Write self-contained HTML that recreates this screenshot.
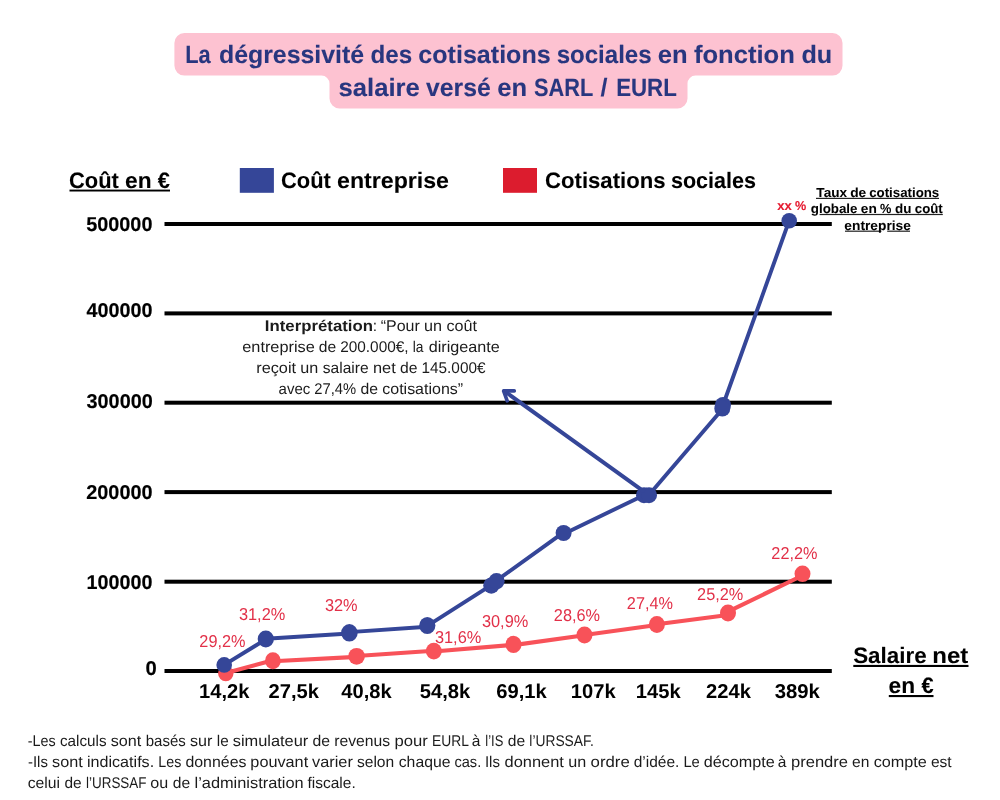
<!DOCTYPE html>
<html lang="fr">
<head>
<meta charset="utf-8">
<title>La dégressivité des cotisations sociales</title>
<style>
html,body{margin:0;padding:0;background:#fff;}
body{width:1000px;height:800px;overflow:hidden;font-family:'Liberation Sans', sans-serif;}
svg{display:block;font-family:'Liberation Sans', sans-serif;}
text{white-space:pre;text-rendering:geometricPrecision;}
</style>
</head>
<body>
<svg width="1000" height="800" viewBox="0 0 1000 800">
<rect width="1000" height="800" fill="#fff"/>
<path d="M184.4,33 H832.5 A10,10 0 0 1 842.5,43 V65.6 A10,10 0 0 1 832.5,75.6 H695.5 A8,8 0 0 0 687.5,83.6 V98.5 A10,10 0 0 1 677.5,108.5 H339.5 A10,10 0 0 1 329.5,98.5 V83.6 A8,8 0 0 0 321.5,75.6 H184.4 A10,10 0 0 1 174.4,65.6 V43 A10,10 0 0 1 184.4,33 Z" fill="#fdc2d1"/>
<rect x="69.5" y="189.6" width="100.5" height="1.9" fill="#000"/>
<rect x="239.8" y="168" width="34.1" height="24.8" fill="#354698"/>
<rect x="503" y="168" width="34" height="24.8" fill="#dc1c2e"/>
<rect x="164.5" y="222.0" width="667.3" height="4" fill="#000"/>
<rect x="164.5" y="311.4" width="667.3" height="4" fill="#000"/>
<rect x="164.5" y="400.7" width="667.3" height="4" fill="#000"/>
<rect x="164.5" y="490.1" width="667.3" height="4" fill="#000"/>
<rect x="164.5" y="579.7" width="667.3" height="4" fill="#000"/>
<rect x="164.5" y="669.0" width="667.3" height="4" fill="#000"/>
<rect x="816.0" y="197.8" width="123.0" height="1.2" fill="#222"/>
<rect x="819.6" y="213.9" width="123.2" height="1.2" fill="#222"/>
<rect x="845.0" y="230.6" width="36.4" height="1.2" fill="#222"/>
<rect x="887.2" y="230.6" width="22.8" height="1.2" fill="#222"/>
<rect x="853.3" y="664.9" width="115.2" height="2.1" fill="#000"/>
<rect x="888.8" y="695.0" width="44.7" height="2.1" fill="#000"/>
<text y="62.70" font-size="25.0" font-weight="bold" fill="#28367f" stroke="#28367f" stroke-width="0.1"><tspan x="185.20" textLength="25.44" lengthAdjust="spacingAndGlyphs">La</tspan> <tspan x="218.95" textLength="145.22" lengthAdjust="spacingAndGlyphs">dégressivité</tspan> <tspan x="370.53" textLength="41.62" lengthAdjust="spacingAndGlyphs">des</tspan> <tspan x="418.38" textLength="132.30" lengthAdjust="spacingAndGlyphs">cotisations</tspan> <tspan x="556.67" textLength="94.98" lengthAdjust="spacingAndGlyphs">sociales</tspan> <tspan x="657.82" textLength="29.84" lengthAdjust="spacingAndGlyphs">en</tspan> <tspan x="693.99" textLength="100.84" lengthAdjust="spacingAndGlyphs">fonction</tspan> <tspan x="801.47" textLength="30.76" lengthAdjust="spacingAndGlyphs">du</tspan></text>
<text y="96.20" font-size="25.0" font-weight="bold" fill="#28367f" stroke="#28367f" stroke-width="0.1"><tspan x="338.52" textLength="81.26" lengthAdjust="spacingAndGlyphs">salaire</tspan> <tspan x="426.00" textLength="64.75" lengthAdjust="spacingAndGlyphs">versé</tspan> <tspan x="497.33" textLength="29.85" lengthAdjust="spacingAndGlyphs">en</tspan> <tspan x="534.02" textLength="58.82" lengthAdjust="spacingAndGlyphs">SARL</tspan> <tspan x="600.55">/</tspan> <tspan x="616.14" textLength="60.67" lengthAdjust="spacingAndGlyphs">EURL</tspan></text>
<text y="187.80" font-size="22.35" font-weight="bold" fill="#000" stroke="#000" stroke-width="0.07"><tspan x="68.96" textLength="49.89" lengthAdjust="spacingAndGlyphs">Coût</tspan> <tspan x="125.13" textLength="26.55" lengthAdjust="spacingAndGlyphs">en</tspan> <tspan x="157.80" textLength="12.15" lengthAdjust="spacingAndGlyphs">€</tspan></text>
<text y="187.80" font-size="22.35" font-weight="bold" fill="#000" stroke="#000" stroke-width="0.07"><tspan x="280.96" textLength="49.89" lengthAdjust="spacingAndGlyphs">Coût</tspan> <tspan x="337.00" textLength="112.01" lengthAdjust="spacingAndGlyphs">entreprise</tspan></text>
<text y="187.80" font-size="22.35" font-weight="bold" fill="#000" stroke="#000" stroke-width="0.07"><tspan x="545.07" textLength="120.45" lengthAdjust="spacingAndGlyphs">Cotisations</tspan> <tspan x="670.97" textLength="85.03" lengthAdjust="spacingAndGlyphs">sociales</tspan></text>
<text y="230.90" font-size="20.0" font-weight="bold" fill="#000" stroke="#000" stroke-width="0.17"><tspan x="86.21" textLength="66.24" lengthAdjust="spacingAndGlyphs">500000</tspan></text>
<text y="317.00" font-size="20.0" font-weight="bold" fill="#000" stroke="#000" stroke-width="0.17"><tspan x="86.49" textLength="66.11" lengthAdjust="spacingAndGlyphs">400000</tspan></text>
<text y="407.80" font-size="20.0" font-weight="bold" fill="#000" stroke="#000" stroke-width="0.17"><tspan x="86.51" textLength="66.29" lengthAdjust="spacingAndGlyphs">300000</tspan></text>
<text y="499.10" font-size="20.0" font-weight="bold" fill="#000" stroke="#000" stroke-width="0.17"><tspan x="86.21" textLength="66.38" lengthAdjust="spacingAndGlyphs">200000</tspan></text>
<text y="589.10" font-size="20.0" font-weight="bold" fill="#000" stroke="#000" stroke-width="0.17"><tspan x="86.48" textLength="66.00" lengthAdjust="spacingAndGlyphs">100000</tspan></text>
<text y="674.50" font-size="20.0" font-weight="bold" fill="#000" stroke="#000" stroke-width="0.17"><tspan x="145.41" textLength="11.25" lengthAdjust="spacingAndGlyphs">0</tspan></text>
<text y="196.80" font-size="13.2" font-weight="bold" fill="#000" stroke="#000" stroke-width="0.04"><tspan x="816.38" textLength="30.71" lengthAdjust="spacingAndGlyphs">Taux</tspan> <tspan x="850.16" textLength="16.07" lengthAdjust="spacingAndGlyphs">de</tspan> <tspan x="869.17" textLength="70.10" lengthAdjust="spacingAndGlyphs">cotisations</tspan></text>
<text y="213.40" font-size="13.2" font-weight="bold" fill="#000" stroke="#000" stroke-width="0.04"><tspan x="810.78" textLength="46.74" lengthAdjust="spacingAndGlyphs">globale</tspan> <tspan x="860.78" textLength="16.01" lengthAdjust="spacingAndGlyphs">en</tspan> <tspan x="880.12" textLength="11.35" lengthAdjust="spacingAndGlyphs">%</tspan> <tspan x="895.03" textLength="16.39" lengthAdjust="spacingAndGlyphs">du</tspan> <tspan x="914.75" textLength="28.03" lengthAdjust="spacingAndGlyphs">coût</tspan></text>
<text y="230.20" font-size="13.2" font-weight="bold" fill="#000" stroke="#000" stroke-width="0.04"><tspan x="844.39" textLength="66.47" lengthAdjust="spacingAndGlyphs">entreprise</tspan></text>
<text y="209.80" font-size="13.0" font-weight="bold" fill="#e5192f" stroke="#e5192f" stroke-width="0.12"><tspan x="777.28" textLength="14.52" lengthAdjust="spacingAndGlyphs">xx</tspan> <tspan x="794.96" textLength="11.20" lengthAdjust="spacingAndGlyphs">%</tspan></text>
<text y="331.00" font-size="15.5" font-weight="normal" fill="#1b1b1b"><tspan x="264.88" textLength="108.12" lengthAdjust="spacingAndGlyphs" font-weight="bold">Interprétation</tspan><tspan x="372.75" textLength="4.32" lengthAdjust="spacingAndGlyphs">:</tspan> <tspan x="380.66" textLength="39.09" lengthAdjust="spacingAndGlyphs">“Pour</tspan> <tspan x="424.00" textLength="18.00" lengthAdjust="spacingAndGlyphs">un</tspan> <tspan x="446.45" textLength="30.51" lengthAdjust="spacingAndGlyphs">coût</tspan></text>
<text y="351.80" font-size="15.5" font-weight="normal" fill="#1b1b1b"><tspan x="242.28" textLength="72.53" lengthAdjust="spacingAndGlyphs">entreprise</tspan> <tspan x="318.76" textLength="17.39" lengthAdjust="spacingAndGlyphs">de</tspan> <tspan x="340.16" textLength="68.50" lengthAdjust="spacingAndGlyphs">200.000€,</tspan> <tspan x="412.74" textLength="10.74" lengthAdjust="spacingAndGlyphs">la</tspan> <tspan x="428.74" textLength="71.01" lengthAdjust="spacingAndGlyphs">dirigeante</tspan></text>
<text y="372.70" font-size="15.5" font-weight="normal" fill="#1b1b1b"><tspan x="256.29" textLength="39.73" lengthAdjust="spacingAndGlyphs">reçoit</tspan> <tspan x="300.25" textLength="17.98" lengthAdjust="spacingAndGlyphs">un</tspan> <tspan x="322.82" textLength="45.83" lengthAdjust="spacingAndGlyphs">salaire</tspan> <tspan x="373.05" textLength="22.70" lengthAdjust="spacingAndGlyphs">net</tspan> <tspan x="400.07" textLength="17.47" lengthAdjust="spacingAndGlyphs">de</tspan> <tspan x="421.50" textLength="64.02" lengthAdjust="spacingAndGlyphs">145.000€</tspan></text>
<text y="393.70" font-size="15.5" font-weight="normal" fill="#1b1b1b"><tspan x="278.56" textLength="31.76" lengthAdjust="spacingAndGlyphs">avec</tspan> <tspan x="314.28" textLength="41.85" lengthAdjust="spacingAndGlyphs">27,4%</tspan> <tspan x="360.51" textLength="17.54" lengthAdjust="spacingAndGlyphs">de</tspan> <tspan x="382.27" textLength="80.82" lengthAdjust="spacingAndGlyphs">cotisations”</tspan></text>
<text y="647.00" font-size="17.2" font-weight="normal" fill="#e23048"><tspan x="199.37" textLength="46.13" lengthAdjust="spacingAndGlyphs">29,2%</tspan></text>
<text y="620.00" font-size="17.2" font-weight="normal" fill="#e23048"><tspan x="238.93" textLength="46.36" lengthAdjust="spacingAndGlyphs">31,2%</tspan></text>
<text y="611.00" font-size="17.2" font-weight="normal" fill="#e23048"><tspan x="324.95" textLength="32.66" lengthAdjust="spacingAndGlyphs">32%</tspan></text>
<text y="643.00" font-size="17.2" font-weight="normal" fill="#e23048"><tspan x="434.93" textLength="46.36" lengthAdjust="spacingAndGlyphs">31,6%</tspan></text>
<text y="627.00" font-size="17.2" font-weight="normal" fill="#e23048"><tspan x="481.93" textLength="46.36" lengthAdjust="spacingAndGlyphs">30,9%</tspan></text>
<text y="621.00" font-size="17.2" font-weight="normal" fill="#e23048"><tspan x="553.83" textLength="46.21" lengthAdjust="spacingAndGlyphs">28,6%</tspan></text>
<text y="609.00" font-size="17.2" font-weight="normal" fill="#e23048"><tspan x="626.83" textLength="46.21" lengthAdjust="spacingAndGlyphs">27,4%</tspan></text>
<text y="600.00" font-size="17.2" font-weight="normal" fill="#e23048"><tspan x="697.08" textLength="46.19" lengthAdjust="spacingAndGlyphs">25,2%</tspan></text>
<text y="559.00" font-size="17.2" font-weight="normal" fill="#e23048"><tspan x="771.37" textLength="46.13" lengthAdjust="spacingAndGlyphs">22,2%</tspan></text>
<text y="698.00" font-size="20.0" font-weight="bold" fill="#000"><tspan x="199.09" textLength="50.36" lengthAdjust="spacingAndGlyphs">14,2k</tspan></text>
<text y="698.00" font-size="20.0" font-weight="bold" fill="#000"><tspan x="268.56" textLength="50.42" lengthAdjust="spacingAndGlyphs">27,5k</tspan></text>
<text y="698.00" font-size="20.0" font-weight="bold" fill="#000"><tspan x="341.38" textLength="50.33" lengthAdjust="spacingAndGlyphs">40,8k</tspan></text>
<text y="698.00" font-size="20.0" font-weight="bold" fill="#000"><tspan x="419.68" textLength="50.53" lengthAdjust="spacingAndGlyphs">54,8k</tspan></text>
<text y="698.00" font-size="20.0" font-weight="bold" fill="#000"><tspan x="496.25" textLength="50.52" lengthAdjust="spacingAndGlyphs">69,1k</tspan></text>
<text y="698.00" font-size="20.0" font-weight="bold" fill="#000"><tspan x="570.80" textLength="44.84" lengthAdjust="spacingAndGlyphs">107k</tspan></text>
<text y="698.00" font-size="20.0" font-weight="bold" fill="#000"><tspan x="635.80" textLength="44.84" lengthAdjust="spacingAndGlyphs">145k</tspan></text>
<text y="698.00" font-size="20.0" font-weight="bold" fill="#000"><tspan x="706.09" textLength="44.89" lengthAdjust="spacingAndGlyphs">224k</tspan></text>
<text y="698.00" font-size="20.0" font-weight="bold" fill="#000"><tspan x="774.73" textLength="45.20" lengthAdjust="spacingAndGlyphs">389k</tspan></text>
<text y="662.80" font-size="22.35" font-weight="bold" fill="#000" stroke="#000" stroke-width="0.07"><tspan x="853.16" textLength="73.43" lengthAdjust="spacingAndGlyphs">Salaire</tspan> <tspan x="932.27" textLength="36.01" lengthAdjust="spacingAndGlyphs">net</tspan></text>
<text y="693.10" font-size="22.35" font-weight="bold" fill="#000" stroke="#000" stroke-width="0.07"><tspan x="888.64" textLength="26.51" lengthAdjust="spacingAndGlyphs">en</tspan> <tspan x="921.41" textLength="12.14" lengthAdjust="spacingAndGlyphs">€</tspan></text>
<text y="746.20" font-size="15.5" font-weight="normal" fill="#1b1b1b"><tspan x="27.69" textLength="27.88" lengthAdjust="spacingAndGlyphs">-Les</tspan> <tspan x="60.02" textLength="46.53" lengthAdjust="spacingAndGlyphs">calculs</tspan> <tspan x="110.69" textLength="30.56" lengthAdjust="spacingAndGlyphs">sont</tspan> <tspan x="145.73" textLength="40.05" lengthAdjust="spacingAndGlyphs">basés</tspan> <tspan x="190.01" textLength="22.38" lengthAdjust="spacingAndGlyphs">sur</tspan> <tspan x="216.77" textLength="11.89" lengthAdjust="spacingAndGlyphs">le</tspan> <tspan x="232.74" textLength="75.55" lengthAdjust="spacingAndGlyphs">simulateur</tspan> <tspan x="312.51" textLength="17.54" lengthAdjust="spacingAndGlyphs">de</tspan> <tspan x="334.32" textLength="55.85" lengthAdjust="spacingAndGlyphs">revenus</tspan> <tspan x="394.53" textLength="33.34" lengthAdjust="spacingAndGlyphs">pour</tspan> <tspan x="432.09" textLength="36.36" lengthAdjust="spacingAndGlyphs">EURL</tspan> <tspan x="471.63">à</tspan> <tspan x="485.32" textLength="18.02" lengthAdjust="spacingAndGlyphs">l’IS</tspan> <tspan x="507.76" textLength="17.39" lengthAdjust="spacingAndGlyphs">de</tspan> <tspan x="529.34" textLength="64.46" lengthAdjust="spacingAndGlyphs">l’URSSAF.</tspan></text>
<text y="767.00" font-size="15.5" font-weight="normal" fill="#1b1b1b"><tspan x="28.03" textLength="19.88" lengthAdjust="spacingAndGlyphs">-Ils</tspan> <tspan x="52.09" textLength="30.65" lengthAdjust="spacingAndGlyphs">sont</tspan> <tspan x="86.99" textLength="67.16" lengthAdjust="spacingAndGlyphs">indicatifs.</tspan> <tspan x="158.29" textLength="22.99" lengthAdjust="spacingAndGlyphs">Les</tspan> <tspan x="185.44" textLength="61.00" lengthAdjust="spacingAndGlyphs">données</tspan> <tspan x="250.38" textLength="57.80" lengthAdjust="spacingAndGlyphs">pouvant</tspan> <tspan x="312.06" textLength="40.79" lengthAdjust="spacingAndGlyphs">varier</tspan> <tspan x="356.92" textLength="37.31" lengthAdjust="spacingAndGlyphs">selon</tspan> <tspan x="398.74" textLength="51.72" lengthAdjust="spacingAndGlyphs">chaque</tspan> <tspan x="454.44" textLength="26.77" lengthAdjust="spacingAndGlyphs">cas.</tspan> <tspan x="484.96" textLength="15.00" lengthAdjust="spacingAndGlyphs">Ils</tspan> <tspan x="504.55" textLength="59.31" lengthAdjust="spacingAndGlyphs">donnent</tspan> <tspan x="568.25" textLength="17.98" lengthAdjust="spacingAndGlyphs">un</tspan> <tspan x="590.60" textLength="39.16" lengthAdjust="spacingAndGlyphs">ordre</tspan> <tspan x="633.76" textLength="45.66" lengthAdjust="spacingAndGlyphs">d’idée.</tspan> <tspan x="683.38" textLength="16.40" lengthAdjust="spacingAndGlyphs">Le</tspan> <tspan x="703.74" textLength="71.01" lengthAdjust="spacingAndGlyphs">décompte</tspan> <tspan x="777.86">à</tspan> <tspan x="791.03" textLength="56.96" lengthAdjust="spacingAndGlyphs">prendre</tspan> <tspan x="852.01" textLength="17.31" lengthAdjust="spacingAndGlyphs">en</tspan> <tspan x="873.70" textLength="53.13" lengthAdjust="spacingAndGlyphs">compte</tspan> <tspan x="930.98" textLength="20.73" lengthAdjust="spacingAndGlyphs">est</tspan></text>
<text y="787.80" font-size="15.5" font-weight="normal" fill="#1b1b1b"><tspan x="27.75" textLength="32.32" lengthAdjust="spacingAndGlyphs">celui</tspan> <tspan x="64.51" textLength="17.19" lengthAdjust="spacingAndGlyphs">de</tspan> <tspan x="86.01" textLength="60.52" lengthAdjust="spacingAndGlyphs">l’URSSAF</tspan> <tspan x="150.34" textLength="17.92" lengthAdjust="spacingAndGlyphs">ou</tspan> <tspan x="172.76" textLength="17.39" lengthAdjust="spacingAndGlyphs">de</tspan> <tspan x="194.52" textLength="109.16" lengthAdjust="spacingAndGlyphs">l’administration</tspan> <tspan x="307.48" textLength="48.22" lengthAdjust="spacingAndGlyphs">fiscale.</tspan></text>
<path d="M225.8,673.05 L272.9,660.15 M272.9,661.2 L356.6,656.9 M356.6,656.0 L433.8,650.8 M433.8,651.5 L513.5,644.8 M513.5,645.15 L584.5,635.2 M584.5,635.05 L656.9,625.0 M656.9,624.3 L728,615.05 M728,611.65 L802.5,575.5" fill="none" stroke="#f85259" stroke-width="4.1" stroke-linecap="round"/>
<ellipse cx="225.8" cy="673.6" rx="7.7" ry="7.7" fill="#f85259"/>
<ellipse cx="272.9" cy="660.7" rx="7.9" ry="8.5" fill="#f85259"/>
<ellipse cx="356.6" cy="656.3" rx="8.3" ry="8.4" fill="#f85259"/>
<ellipse cx="433.8" cy="651.1" rx="8.0" ry="8.4" fill="#f85259"/>
<ellipse cx="513.5" cy="644.4" rx="8.0" ry="8.6" fill="#f85259"/>
<ellipse cx="584.5" cy="635" rx="8.0" ry="8.5" fill="#f85259"/>
<ellipse cx="656.9" cy="624.4" rx="8.0" ry="8.5" fill="#f85259"/>
<ellipse cx="728" cy="613" rx="8.0" ry="8.5" fill="#f85259"/>
<ellipse cx="802.5" cy="573.8" rx="8.0" ry="8.3" fill="#f85259"/>
<path d="M224.2,664.9 L265.8,639.4 M265.8,638.7 L349.4,633.55 M349.4,632.1 L427.3,626.75 M427.3,625.8 L494,583.3 M494,582.45 L563.6,532.45 M563.6,533.9 L646.5,493.95 M648.65,495.2 L724.65,406.5 M722.5,406.5 L789.2,220.7" fill="none" stroke="#354698" stroke-width="3.9" stroke-linecap="round"/>
<ellipse cx="224.2" cy="664.9" rx="7.8" ry="7.8" fill="#354698"/>
<ellipse cx="265.8" cy="639" rx="8.1" ry="8.5" fill="#354698"/>
<ellipse cx="349.4" cy="632.8" rx="8.3" ry="8.7" fill="#354698"/>
<ellipse cx="427.3" cy="625.5" rx="8.1" ry="8.6" fill="#354698"/>
<ellipse cx="491.3" cy="585.6" rx="8.1" ry="8.1" fill="#354698"/>
<ellipse cx="496.5" cy="581.2" rx="8.1" ry="8.1" fill="#354698"/>
<ellipse cx="563.6" cy="533" rx="8.0" ry="8.0" fill="#354698"/>
<ellipse cx="644" cy="495.2" rx="8" ry="8" fill="#354698"/>
<ellipse cx="649" cy="495.2" rx="8" ry="8" fill="#354698"/>
<ellipse cx="723" cy="405" rx="8" ry="8" fill="#354698"/>
<ellipse cx="722.3" cy="408.6" rx="8" ry="8" fill="#354698"/>
<ellipse cx="789.2" cy="220.7" rx="7.8" ry="7.8" fill="#354698"/>
<path d="M643,490.8 L504.5,391.2" fill="none" stroke="#354698" stroke-width="4.0" stroke-linecap="round"/>
<path d="M514.3,390.9 L503.6,390.9 L507.2,400.8" fill="none" stroke="#354698" stroke-width="3.6" stroke-linecap="round" stroke-linejoin="round"/>
</svg>
</body>
</html>
